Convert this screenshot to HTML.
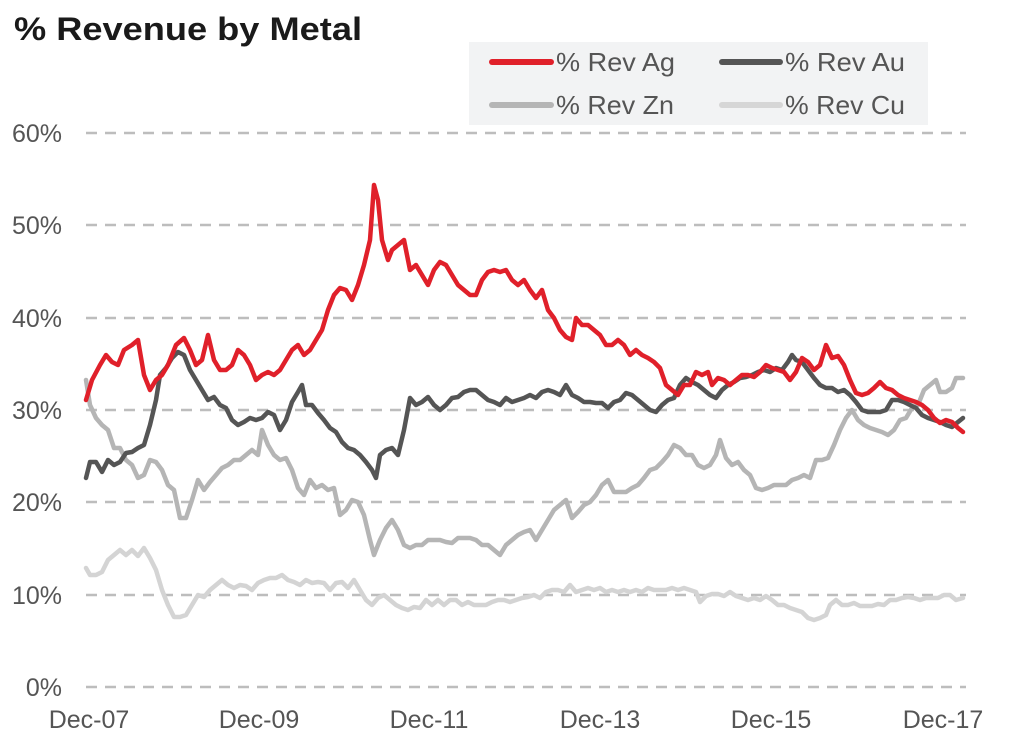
<!DOCTYPE html>
<html><head><meta charset="utf-8"><style>html,body{margin:0;padding:0;background:#fff;}svg{display:block;}</style></head>
<body>
<svg width="1024" height="740" viewBox="0 0 1024 740" xmlns="http://www.w3.org/2000/svg" font-family="Liberation Sans, Arial, sans-serif">
<rect width="1024" height="740" fill="#fff"/>
<text x="14" y="40" font-size="32" font-weight="bold" fill="#1a1a1a" textLength="348" lengthAdjust="spacingAndGlyphs">% Revenue by Metal</text>
<g stroke="#bdbdbd" stroke-width="2.5" stroke-dasharray="11,8">
<line x1="86" y1="133" x2="966" y2="133"/><line x1="86" y1="225" x2="966" y2="225"/><line x1="86" y1="318" x2="966" y2="318"/><line x1="86" y1="410" x2="966" y2="410"/><line x1="86" y1="502" x2="966" y2="502"/><line x1="86" y1="595" x2="966" y2="595"/><line x1="86" y1="687" x2="966" y2="687"/>
</g>
<rect x="469" y="42" width="459" height="83" fill="#f2f3f4"/>
<g font-size="26" fill="#555">
<line x1="492" y1="62" x2="551" y2="62" stroke="#e0202a" stroke-width="6" stroke-linecap="round"/>
<text x="556" y="71" textLength="119" lengthAdjust="spacingAndGlyphs">% Rev Ag</text>
<line x1="722" y1="62" x2="780" y2="62" stroke="#555" stroke-width="6" stroke-linecap="round"/>
<text x="785" y="71" textLength="120" lengthAdjust="spacingAndGlyphs">% Rev Au</text>
<line x1="492" y1="105" x2="551" y2="105" stroke="#b5b5b5" stroke-width="6" stroke-linecap="round"/>
<text x="556" y="114" textLength="118" lengthAdjust="spacingAndGlyphs">% Rev Zn</text>
<line x1="722" y1="105" x2="780" y2="105" stroke="#d6d6d6" stroke-width="6" stroke-linecap="round"/>
<text x="785" y="114" textLength="120" lengthAdjust="spacingAndGlyphs">% Rev Cu</text>
</g>
<g font-size="25" fill="#555" text-anchor="end">
<text x="62" y="142">60%</text><text x="62" y="234">50%</text><text x="62" y="327">40%</text><text x="62" y="419">30%</text><text x="62" y="511">20%</text><text x="62" y="604">10%</text><text x="62" y="696">0%</text>
</g>
<g font-size="25" fill="#555" text-anchor="middle">
<text x="89" y="728">Dec-07</text><text x="259" y="728">Dec-09</text><text x="429" y="728">Dec-11</text><text x="600" y="728">Dec-13</text><text x="771" y="728">Dec-15</text><text x="943" y="728">Dec-17</text>
</g>
<g fill="none" stroke-width="4.5" stroke-linejoin="round" stroke-linecap="round">
<polyline stroke="#d4d4d4" points="86,568 90,575 96,575 102,572 108,560 114,555 120,550 126,555 132,550 138,556 144,548 150,558 156,570 162,590 168,605 174,617 180,617 186,615 192,605 198,595 204,597 210,590 216,585 222,580 228,585 234,588 240,585 246,586 252,590 258,583 264,580 270,578 276,578 282,575 288,580 294,582 300,585 306,580 312,583 318,582 324,583 330,590 336,583 342,582 348,588 354,580 360,590 366,600 372,605 378,598 384,595 390,600 396,605 402,608 408,610 414,607 420,608 426,600 432,605 438,600 444,605 450,600 456,600 462,605 468,602 474,605 480,605 486,605 492,602 498,600 504,600 510,602 516,600 522,598 528,597 534,595 540,598 546,592 552,590 558,590 564,592 570,585 576,592 582,590 588,588 594,590 600,588 606,592 612,590 618,592 624,590 630,592 636,590 642,592 648,588 654,590 660,590 666,590 672,588 678,590 684,588 690,590 696,592 700,602 706,596 712,594 718,594 724,596 730,592 736,596 742,598 748,600 754,598 760,600 766,596 772,600 778,605 784,605 790,608 796,610 802,612 808,618 814,620 820,618 826,615 830,605 836,600 842,605 848,605 854,603 860,606 866,606 872,606 878,604 884,605 890,600 896,600 902,598 908,597 914,598 920,600 926,598 932,598 938,598 944,595 950,595 956,600 963,598"/>
<polyline stroke="#b5b5b5" points="86,380 90,405 96,418 102,425 108,430 114,448 120,448 126,460 132,465 138,478 144,475 150,460 156,462 162,470 168,485 174,490 180,518 186,518 192,500 198,480 204,490 210,482 216,475 222,468 228,465 234,460 240,460 246,455 252,450 258,455 262,430 268,445 274,455 280,460 286,458 292,470 298,488 304,495 310,480 316,488 322,485 328,490 334,488 340,515 346,510 352,500 358,502 364,515 370,540 374,555 380,540 386,528 392,520 398,530 404,545 410,548 416,545 422,545 428,540 434,540 440,540 446,542 452,543 458,538 464,538 470,538 476,540 482,545 488,545 494,550 500,555 506,545 512,540 518,535 524,532 530,530 536,540 542,530 548,520 554,510 560,505 566,500 572,518 578,512 584,505 590,502 596,495 602,485 608,480 614,492 620,492 626,492 632,488 638,485 644,478 650,470 656,468 662,462 668,455 674,445 680,448 686,455 692,455 698,465 704,468 710,465 716,455 720,440 726,458 732,465 738,462 744,470 750,475 756,488 762,490 768,488 774,485 780,485 786,485 792,480 798,478 804,475 810,478 816,460 822,460 828,458 834,445 840,430 846,418 852,410 858,420 864,425 870,428 876,430 882,432 888,435 894,430 900,420 906,418 912,408 918,405 924,390 930,385 936,380 940,392 946,392 952,388 956,378 963,378"/>
<polyline stroke="#555" points="86,478 90,462 96,462 102,472 108,460 114,465 120,462 126,453 132,452 138,448 144,445 150,425 156,400 160,375 166,368 172,358 178,352 184,355 190,370 196,380 202,390 208,400 214,397 220,405 226,408 232,420 238,425 244,422 250,418 256,420 262,418 268,412 274,415 280,430 286,420 292,402 298,392 302,385 306,405 312,405 318,413 324,420 330,428 336,432 342,442 348,448 354,450 360,455 366,462 372,470 376,478 380,455 386,450 392,448 398,455 404,430 410,398 416,405 422,402 428,397 434,405 440,410 446,405 452,398 458,397 464,392 470,390 476,390 482,395 488,400 494,402 500,405 506,398 512,402 518,400 524,398 530,395 536,398 542,392 548,390 554,392 560,395 566,385 572,395 578,398 584,402 590,402 596,403 602,403 608,408 614,402 620,400 626,393 632,395 638,400 644,405 650,410 656,412 662,405 668,400 674,398 680,385 686,378 692,382 698,385 704,390 710,395 716,398 722,390 728,385 734,382 740,378 746,377 752,375 758,372 764,370 770,372 776,368 782,370 788,362 792,355 796,360 802,362 808,370 814,378 820,385 826,388 832,388 838,392 844,390 850,395 856,402 862,410 868,412 874,412 880,412 886,410 892,400 898,400 904,402 910,405 916,408 922,415 928,418 934,420 940,422 946,425 952,427 958,422 963,418"/>
<polyline stroke="#e0202a" points="86,400 92,380 100,365 106,355 112,362 118,365 124,350 132,345 138,340 144,375 150,390 156,380 162,375 168,365 176,345 184,338 190,350 196,365 202,360 208,335 214,360 220,370 226,370 232,365 238,350 244,355 250,365 256,380 262,375 268,372 274,375 280,370 286,360 292,350 298,345 304,355 310,350 316,340 322,330 328,310 334,295 340,288 346,290 352,300 358,285 364,265 370,240 374,185 378,200 382,240 388,260 392,250 398,245 404,240 410,270 416,265 422,275 428,285 434,270 440,262 446,265 452,275 458,285 464,290 470,295 476,295 482,280 488,272 494,270 500,272 506,270 512,280 518,285 524,280 530,290 536,298 542,290 548,310 554,318 560,330 566,337 572,340 576,318 582,325 588,325 594,330 600,335 606,345 612,345 618,340 624,345 630,355 636,350 642,355 648,358 654,362 660,368 666,385 672,390 678,395 684,385 690,385 696,372 702,375 708,372 712,385 718,378 724,380 730,385 736,380 742,375 748,375 754,377 760,372 766,365 772,368 778,370 784,372 790,380 796,372 802,358 808,362 814,370 820,365 826,345 832,358 838,356 844,365 850,380 856,393 862,395 868,393 874,388 880,382 886,388 892,390 898,395 904,398 910,400 916,402 922,405 928,410 934,418 940,423 946,420 952,422 958,428 963,432"/>
</g>
</svg>
</body></html>
